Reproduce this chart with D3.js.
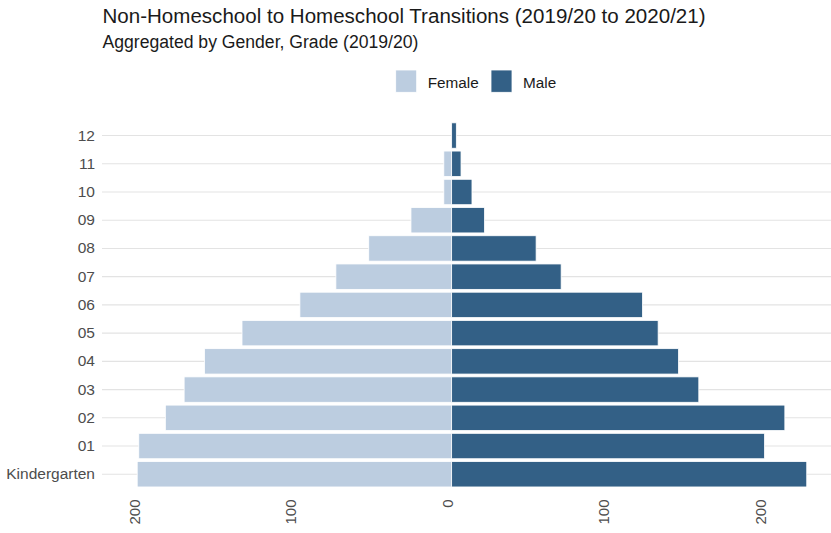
<!DOCTYPE html>
<html>
<head>
<meta charset="utf-8">
<script src="https://cdn.jsdelivr.net/npm/d3@7"></script>
<style>
  html, body { margin: 0; padding: 0; background: #fff; }
  svg { display: block; font-family: "Liberation Sans", Arial, sans-serif; }
</style>
</head>
<body>
<svg id="chart" width="831" height="533"></svg>
<script>
// ---- data ----
const grades = ["Kindergarten", "01", "02", "03", "04", "05", "06", "07", "08", "09", "10", "11", "12"];
const female = [201, 200, 183, 171, 158, 134, 97, 74, 53, 26, 5, 5, 0];
const male   = [227, 200, 213, 158, 145, 132, 122, 70, 54, 21, 13, 6, 3];
const xTicks = [-200, -100, 0, 100, 200];
const seriesNames = ["Female", "Male"];
const seriesColors = ["#bccde0", "#336086"];
const titleText = "Non-Homeschool to Homeschool Transitions (2019/20 to 2020/21)";
const subtitleText = "Aggregated by Gender, Grade (2019/20)";

// ---- layout ----
const svg = d3.select("#chart");
const panel = { left: 102, right: 831, top: 118.6, bottom: 491.2 };

const x = d3.scaleLinear().domain([-223.5, 242.5]).range([panel.left, panel.right]);
const y = d3.scaleBand()
  .domain(grades.slice().reverse())
  .range([panel.top, panel.bottom])
  .paddingInner(0.1)
  .paddingOuter(0.15);

const rows = grades.map((g, i) => ({ grade: g, female: female[i], male: male[i] }));

// gridlines
svg.append("g").selectAll("line").data(grades).join("line")
  .attr("x1", panel.left).attr("x2", panel.right)
  .attr("y1", d => y(d) + y.bandwidth() / 2)
  .attr("y2", d => y(d) + y.bandwidth() / 2)
  .attr("stroke", "#e3e3e3").attr("stroke-width", 1.1);

// bars
const bars = svg.append("g");
bars.selectAll("rect.f").data(rows).join("rect").attr("class", "f")
  .attr("x", d => x(-d.female))
  .attr("width", d => x(0) - x(-d.female))
  .attr("y", d => y(d.grade))
  .attr("height", y.bandwidth())
  .attr("fill", seriesColors[0])
  .attr("stroke", "#ffffff").attr("stroke-width", 0.8)
  .style("display", d => d.female > 0 ? null : "none");
bars.selectAll("rect.m").data(rows).join("rect").attr("class", "m")
  .attr("x", x(0))
  .attr("width", d => x(d.male) - x(0))
  .attr("y", d => y(d.grade))
  .attr("height", y.bandwidth())
  .attr("fill", seriesColors[1])
  .attr("stroke", "#ffffff").attr("stroke-width", 0.8);

// y axis labels
const yAxis = d3.axisLeft(y).tickSize(0).tickPadding(0);
const yg = svg.append("g").attr("transform", `translate(${95},0)`).call(yAxis);
yg.select(".domain").remove();
yg.selectAll("text")
  .attr("fill", "#4d4d4d")
  .style("font-size", "15.5px")
  .style("font-family", "Liberation Sans, Arial, sans-serif");

// x axis labels (rotated)
const xAxis = d3.axisBottom(x).tickValues(xTicks).tickSize(0).tickFormat(d => Math.abs(d));
const xg = svg.append("g").attr("transform", `translate(0,${499.5})`).call(xAxis);
xg.select(".domain").remove();
xg.selectAll(".tick text")
  .attr("y", 0).attr("dy", null)
  .attr("transform", "translate(0.5,0) rotate(-90)")
  .attr("text-anchor", "end")
  .attr("fill", "#4d4d4d")
  .style("font-size", "15px")
  .style("font-family", "Liberation Sans, Arial, sans-serif");

// title & subtitle (fit to measured reference widths)
function fitText(sel, targetWidth, baseSize) {
  sel.style("font-size", baseSize + "px");
  const w = sel.node().getComputedTextLength();
  sel.style("font-size", (baseSize * targetWidth / w).toFixed(2) + "px");
}
const title = svg.append("text").attr("x", 102.5).attr("y", 22.7)
  .attr("fill", "#1a1a1a").text(titleText);
fitText(title, 603.5, 18);
const subtitle = svg.append("text").attr("x", 102.5).attr("y", 47.7)
  .attr("fill", "#1a1a1a").text(subtitleText);
fitText(subtitle, 316, 15);

// legend
const legendX = [395.7, 491];
const lg = svg.append("g");
seriesNames.forEach((name, i) => {
  lg.append("rect")
    .attr("x", legendX[i]).attr("y", 70)
    .attr("width", 21).attr("height", 22.3)
    .attr("fill", seriesColors[i])
    .attr("stroke", "#ffffff").attr("stroke-width", 0.8);
  lg.append("text")
    .attr("x", legendX[i] + 32).attr("y", 87.7)
    .attr("fill", "#1a1a1a")
    .style("font-size", "15.3px")
    .text(name);
});
</script>
</body>
</html>
